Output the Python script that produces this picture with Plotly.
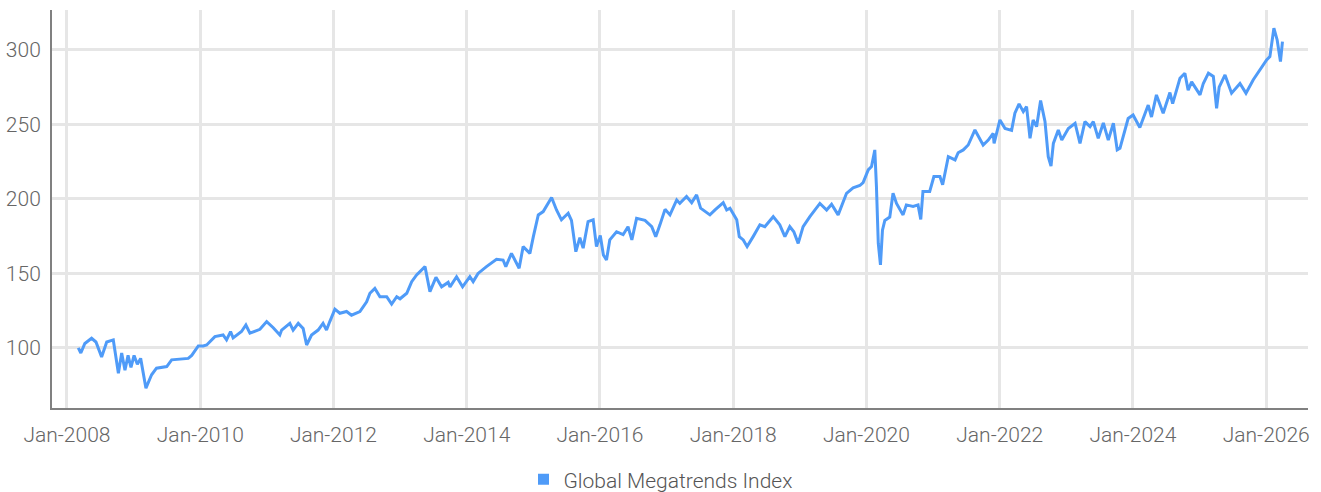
import plotly.graph_objects as go

dates = [
    "2008-03-03", "2008-03-17", "2008-04-08", "2008-05-15", "2008-06-08", "2008-07-09", "2008-08-06",
    "2008-09-11", "2008-10-09", "2008-10-27", "2008-11-14", "2008-12-01", "2008-12-17", "2009-01-03",
    "2009-01-21", "2009-02-08", "2009-03-09", "2009-04-09", "2009-05-06", "2009-07-01", "2009-07-28",
    "2009-09-12", "2009-10-27", "2009-11-15", "2009-12-21", "2010-01-17", "2010-02-05", "2010-03-22",
    "2010-05-06", "2010-05-25", "2010-06-16", "2010-06-30", "2010-08-15", "2010-09-08", "2010-09-30",
    "2010-11-24", "2010-12-31", "2011-02-05", "2011-03-13", "2011-03-23", "2011-05-07", "2011-05-25",
    "2011-06-22", "2011-07-19", "2011-08-07", "2011-09-03", "2011-10-09", "2011-11-05", "2011-11-24",
    "2011-12-12", "2012-01-09", "2012-02-05", "2012-03-13", "2012-04-09", "2012-05-25", "2012-07-01",
    "2012-07-19", "2012-08-15", "2012-09-12", "2012-10-19", "2012-11-15", "2012-12-13", "2012-12-31",
    "2013-02-06", "2013-03-05", "2013-04-01", "2013-05-17", "2013-06-13", "2013-07-16", "2013-08-16",
    "2013-09-21", "2013-10-01", "2013-11-06", "2013-12-09", "2014-01-18", "2014-02-05", "2014-03-04",
    "2014-04-19", "2014-06-13", "2014-07-19", "2014-08-03", "2014-09-03", "2014-10-15", "2014-11-06",
    "2014-12-13", "2015-01-01", "2015-01-28", "2015-02-24", "2015-04-11", "2015-05-08", "2015-06-04",
    "2015-07-11", "2015-07-29", "2015-08-22", "2015-09-13", "2015-10-01", "2015-10-28", "2015-11-25",
    "2015-12-13", "2016-01-03", "2016-01-20", "2016-02-06", "2016-02-24", "2016-04-01", "2016-05-07",
    "2016-06-03", "2016-06-24", "2016-07-20", "2016-09-04", "2016-10-11", "2016-11-02", "2016-11-25",
    "2016-12-23", "2017-01-19", "2017-02-25", "2017-03-14", "2017-04-20", "2017-05-18", "2017-06-14",
    "2017-07-06", "2017-08-26", "2017-09-23", "2017-11-07", "2017-11-26", "2017-12-14", "2018-01-20",
    "2018-02-03", "2018-02-25", "2018-03-18", "2018-04-20", "2018-05-27", "2018-06-23", "2018-08-08",
    "2018-09-13", "2018-10-11", "2018-11-07", "2018-11-29", "2018-12-23", "2019-01-19", "2019-02-25",
    "2019-04-21", "2019-05-28", "2019-06-24", "2019-07-30", "2019-09-14", "2019-10-20", "2019-11-26",
    "2019-12-14", "2020-01-11", "2020-01-29", "2020-02-16", "2020-02-25", "2020-03-06", "2020-03-18",
    "2020-03-29", "2020-04-11", "2020-05-08", "2020-05-26", "2020-06-14", "2020-07-20", "2020-08-07",
    "2020-09-13", "2020-10-10", "2020-10-25", "2020-11-06", "2020-12-13", "2021-01-05", "2021-02-07",
    "2021-02-22", "2021-03-25", "2021-05-01", "2021-05-18", "2021-06-15", "2021-07-12", "2021-08-18",
    "2021-10-02", "2021-10-30", "2021-11-26", "2021-12-01", "2022-01-02", "2022-01-30", "2022-03-07",
    "2022-03-25", "2022-04-17", "2022-05-10", "2022-05-28", "2022-06-16", "2022-07-03", "2022-07-22",
    "2022-08-13", "2022-09-06", "2022-09-24", "2022-10-09", "2022-10-22", "2022-11-18", "2022-12-07",
    "2023-01-12", "2023-02-18", "2023-03-17", "2023-04-13", "2023-05-11", "2023-05-29", "2023-06-25",
    "2023-07-23", "2023-08-19", "2023-09-16", "2023-10-07", "2023-10-22", "2023-11-09", "2023-12-06",
    "2024-01-02", "2024-02-08", "2024-03-25", "2024-04-12", "2024-05-09", "2024-06-15", "2024-07-22",
    "2024-08-06", "2024-09-15", "2024-10-12", "2024-10-30", "2024-11-18", "2025-01-03", "2025-01-21",
    "2025-02-18", "2025-03-17", "2025-04-04", "2025-04-18", "2025-05-20", "2025-06-25", "2025-08-10",
    "2025-09-12", "2025-10-22", "2025-11-28", "2026-01-03", "2026-01-21", "2026-02-12", "2026-03-02",
    "2026-03-20", "2026-03-31",
]

index_values = [
    100.0, 96.6, 103.0, 106.5, 104.0, 94.0, 104.0,
    105.4, 83.0, 96.6, 85.0, 95.0, 87.0, 95.0,
    89.0, 93.0, 73.0, 82.0, 86.4, 87.5, 92.0,
    92.6, 93.0, 95.0, 101.3, 101.3, 102.0, 107.6,
    108.7, 105.4, 111.0, 106.7, 111.0, 115.4, 110.0,
    112.5, 117.7, 113.6, 108.7, 112.0, 116.5, 112.0,
    116.5, 113.0, 102.0, 108.7, 112.0, 116.5, 112.0,
    117.7, 126.0, 123.3, 124.5, 122.0, 124.4, 131.0,
    136.7, 140.0, 134.4, 134.4, 129.5, 134.4, 133.0,
    136.7, 144.5, 149.0, 154.6, 137.8, 147.4, 141.0,
    144.0, 141.0, 147.8, 141.0, 147.8, 144.5, 150.0,
    154.6, 159.5, 159.0, 154.6, 163.5, 153.5, 168.0,
    163.5, 174.7, 189.3, 191.5, 201.0, 192.6, 186.0,
    190.4, 185.6, 164.6, 174.0, 167.0, 184.8, 186.0,
    168.0, 175.5, 162.4, 159.0, 172.5, 178.0, 176.0,
    181.4, 172.5, 187.0, 185.6, 181.4, 174.7, 182.6,
    193.0, 189.3, 199.3, 197.0, 201.6, 197.5, 202.7,
    193.8, 189.3, 192.6, 197.5, 192.6, 193.8, 186.0,
    174.7, 172.5, 168.0, 174.7, 182.6, 181.4, 188.1,
    182.6, 174.7, 181.4, 178.0, 170.2, 181.4, 188.1,
    197.0, 192.6, 196.4, 189.3, 203.8, 207.5, 209.0,
    211.0, 219.5, 221.7, 232.9, 208.3, 170.3, 155.7,
    179.0, 185.6, 187.8, 203.8, 197.0, 189.3, 196.0,
    195.0, 196.0, 186.3, 205.0, 205.0, 215.0, 215.0,
    209.5, 228.4, 226.2, 231.0, 232.9, 236.2, 246.3,
    236.2, 239.5, 244.0, 237.3, 253.0, 247.3, 246.0,
    257.5, 263.8, 258.6, 262.0, 240.7, 253.0, 248.5,
    266.0, 252.0, 228.4, 222.1, 237.3, 246.3, 239.5,
    247.3, 250.8, 237.3, 251.9, 248.5, 251.9, 240.7,
    251.0, 239.5, 250.8, 232.9, 234.0, 242.5, 254.0,
    256.3, 248.0, 263.0, 255.0, 269.8, 257.5, 271.4,
    264.0, 281.0, 284.4, 273.0, 278.6, 269.8, 277.5,
    284.4, 282.2, 260.8, 275.0, 283.2, 271.0, 277.5,
    271.0, 280.0, 286.6, 293.3, 295.5, 314.6, 306.7,
    292.2, 305.6,
]

series_name = "Global Megatrends Index"
x_range = ["2007-10-11", "2026-08-18"]
y_range = [59.7, 326.8]
y_ticks = [100, 150, 200, 250, 300]

line_color = "#4f9bf8"
font_family = "Roboto"

fig = go.Figure()
fig.add_trace(go.Scatter(
    x=dates, y=index_values, mode="lines", name=series_name,
    line=dict(color=line_color, width=3), showlegend=False,
))
fig.add_trace(go.Scatter(
    x=[None], y=[None], mode="markers", name=series_name,
    marker=dict(symbol="square", color=line_color, size=11),
    showlegend=True,
))

fig.update_layout(
    width=1321, height=492,
    margin=dict(l=52, r=13, t=10, b=84),
    paper_bgcolor="white", plot_bgcolor="white",
    font=dict(family=font_family, size=21, color="#666666", weight=300),
    legend=dict(
        orientation="h", xref="container", yref="container",
        x=0.5, y=0.025, xanchor="center", yanchor="middle",
        font=dict(size=21, color="#555555", family=font_family, weight=300),
        itemwidth=30, tracegroupgap=0,
    ),
    xaxis=dict(
        type="date", range=x_range, automargin=False,
        tick0="2008-01-01", dtick="M24", tickformat="%b-%Y",
        showgrid=True, gridcolor="#e6e6e6", gridwidth=2.5,
        showline=True, linecolor="#808080", linewidth=2,
        ticks="", ticklabelstandoff=7,
        zeroline=False,
        tickfont=dict(size=21, color="#666666", family=font_family, weight=300),
    ),
    yaxis=dict(
        range=y_range, tickvals=y_ticks, automargin=False,
        showgrid=True, gridcolor="#e6e6e6", gridwidth=2.5,
        showline=True, linecolor="#808080", linewidth=2,
        ticks="", ticklabelstandoff=5,
        zeroline=False,
        tickfont=dict(size=21, color="#666666", family=font_family, weight=300),
    ),
)

fig.write_html(
    "out.html",
    config={"displayModeBar": False},
    post_script="document.body.style.margin='0px';document.body.style.overflow='hidden';",
)
